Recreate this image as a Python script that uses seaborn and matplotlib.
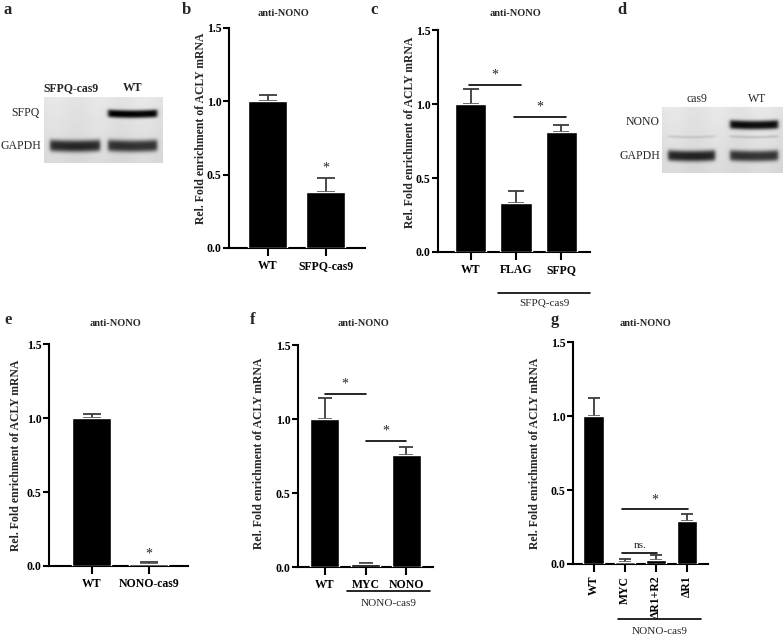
import numpy as np
import pandas as pd
import matplotlib
matplotlib.use("Agg")
import matplotlib.pyplot as plt
import seaborn as sns
from matplotlib.transforms import blended_transform_factory

# ---- data ----
b_groups = ["WT", "SFPQ-cas9"]
b_means = [1.0, 0.38]
b_upper = [1.04, 0.48]

c_groups = ["WT", "FLAG", "SFPQ"]
c_means = [1.0, 0.33, 0.81]
c_upper = [1.10, 0.41, 0.86]

e_groups = ["WT", "NONO-cas9"]
e_means = [1.0, 0.011]
e_upper = [1.025, 0.025]

f_groups = ["WT", "MYC", "NONO"]
f_means = [1.0, 0.02, 0.76]
f_upper = [1.14, 0.03, 0.81]

g_groups = ["WT", "MYC", "ΔR1+R2", "ΔR1"]
g_means = [1.0, 0.016, 0.03, 0.29]
g_upper = [1.12, 0.034, 0.06, 0.34]

# significance: (group i, group j, height, label)
c_sig = [(0, 1, 1.13, "*"), (1, 2, 0.91, "*")]
f_sig = [(0, 1, 1.17, "*"), (1, 2, 0.85, "*")]
g_sig = [(1, 2, 0.075, "ns."), (1, 3, 0.37, "*")]

# western blots: band darkness per row / lane
blot_a_lanes = ["SFPQ-cas9", "WT"]
blot_a_rows = ["SFPQ", "GAPDH"]
blot_a_signal = [[0.0, 1.0], [0.8, 0.76]]
blot_d_lanes = ["cas9", "WT"]
blot_d_rows = ["NONO", "", "GAPDH"]
blot_d_signal = [[0.0, 0.95], [0.1, 0.12], [0.82, 0.75]]

ylab = "Rel. Fold enrichment of ACLY mRNA"

W, H = 784, 636
sns.set_style("ticks")
plt.rcParams['font.family'] = ['Liberation Serif', 'DejaVu Serif']
plt.rcParams['font.weight'] = 'bold'

fig = plt.figure(figsize=(W / 100, H / 100), dpi=100)


def add_ax(l, t, r, b):
    return fig.add_axes([l / W, 1 - b / H, (r - l) / W, (b - t) / H])


def ftext(x, y, s, **kw):
    fig.text(x / W, 1 - y / H, s, **kw)


def bar_panel(box, groups, means, upper, xlim, width, capsize, rotate=False):
    ax = add_ax(*box)
    df = pd.DataFrame({"group": groups, "value": means})
    sns.barplot(data=df, x="group", y="value", color="black", width=width,
                saturation=1, errorbar=None, ax=ax, zorder=3)
    err = np.array(upper) - np.array(means)
    ax.errorbar(np.arange(len(groups)), means, yerr=[np.zeros(len(groups)), err],
                fmt="none", ecolor="#3c3c3c", elinewidth=1.3, capsize=capsize,
                capthick=1.3, zorder=2)
    ax.set_xlim(*xlim)
    ax.set_ylim(0, 1.5)
    ax.set_yticks([0, 0.5, 1.0, 1.5])
    ax.set_yticklabels(["0.0", "0.5", "1.0", "1.5"], fontsize=8.5, fontweight="bold")
    ax.set_xlabel("")
    ax.set_ylabel("")
    for s in ["top", "right"]:
        ax.spines[s].set_visible(False)
    for s in ["left", "bottom"]:
        ax.spines[s].set_linewidth(1.5)
        ax.spines[s].set_color("black")
    ax.tick_params(axis="y", length=4, width=1.5, pad=1.5, colors="black")
    ax.tick_params(axis="x", length=6, width=1.5, pad=2.5, colors="black")
    ax.set_xticks(range(len(groups)))
    if rotate:
        ax.set_xticklabels(groups, rotation=90, fontsize=8.5, fontweight="bold", va="top")
    else:
        ax.set_xticklabels(groups, fontsize=8.5, fontweight="bold")
    ax.set_facecolor("white")
    return ax


def sig_lines(ax, sig, lo=-0.05, hi=0.1, gap=0.025):
    for i, j, y, lab in sig:
        ax.plot([i + lo, j + hi], [y, y], color="black", lw=1.2, clip_on=False)
        fs = 10 if lab == "*" else 8
        ax.text((i + lo + j + hi) / 2, y + gap, lab, ha="center", va="bottom",
                fontsize=fs, fontweight="normal")


def group_line(ax, x0, x1, y_px, label, y_txt):
    tr = blended_transform_factory(ax.transData, fig.transFigure)
    ax.plot([x0, x1], [1 - y_px / H] * 2, color="black", lw=1.2,
            transform=tr, clip_on=False)
    ax.text((x0 + x1) / 2, 1 - y_txt / H, label, transform=tr, ha="center",
            va="center", fontsize=8, fontweight="normal")


def blot(box, lanes_x, rows_y, rows_h, signal, bg=0.9):
    l, t, r, b = box
    ax = add_ax(l, t, r, b)
    w, h = r - l, b - t
    yy, xx = np.mgrid[0:h * 4, 0:w * 4] / 4.0
    img = bg - 0.05 * (yy / h) + 0.01 * np.sin(xx / 7.0)
    for ri, (yc, hh) in enumerate(zip(rows_y, rows_h)):
        for li, (x0, x1) in enumerate(lanes_x):
            s = signal[ri][li]
            px = 0.5 * (np.tanh((xx - x0) / 2.0) - np.tanh((xx - x1) / 2.0))
            curve = 0.8 * ((xx - (x0 + x1) / 2) / ((x1 - x0) / 2)) ** 2
            py = np.exp(-(np.abs(yy - yc + curve) / (hh / 2)) ** 3)
            img = img - s * 0.88 * px * py
    ax.imshow(np.clip(img, 0, 1), cmap="gray", vmin=0, vmax=1,
              extent=(0, w, h, 0), aspect="auto", interpolation="bilinear")
    ax.axis("off")
    return ax


# ---- panel a: blot ----
blot((44, 97, 163, 163), [(6, 56), (64, 113)], [17, 49], [8, 12], blot_a_signal)
ftext(71, 88, blot_a_lanes[0], ha="center", va="center", fontsize=8.5, fontweight="bold")
ftext(133, 88, blot_a_lanes[1], ha="center", va="center", fontsize=8.5, fontweight="bold")
ftext(40, 113, blot_a_rows[0], ha="right", va="center", fontsize=8.5, fontweight="normal")
ftext(41, 146, blot_a_rows[1], ha="right", va="center", fontsize=8.5, fontweight="normal")

# ---- panel d: blot ----
blot((662, 107, 783, 173), [(6, 53), (68, 116)], [18, 30, 49], [9, 3, 11], blot_d_signal)
ftext(697, 99, blot_d_lanes[0], ha="center", va="center", fontsize=8.5, fontweight="normal")
ftext(757, 99, blot_d_lanes[1], ha="center", va="center", fontsize=8.5, fontweight="normal")
ftext(660, 122, blot_d_rows[0], ha="right", va="center", fontsize=8.5, fontweight="normal")
ftext(660, 156, blot_d_rows[2], ha="right", va="center", fontsize=8.5, fontweight="normal")

# ---- panel b ----
axb = bar_panel((229, 28, 365, 248), b_groups, b_means, b_upper, (-0.66, 1.67), 0.67, 6.5)
axb.text(1, b_upper[1] + 0.02, "*", ha="center", va="bottom", fontsize=10, fontweight="normal")

# ---- panel c ----
axc = bar_panel((438, 30, 590, 252), c_groups, c_means, c_upper, (-0.73, 2.64), 0.69, 5.5)
sig_lines(axc, c_sig)
group_line(axc, 0.6, 2.64, 293, "SFPQ-cas9", 303)

# ---- panel e ----
axe = bar_panel((49, 344, 188, 566), e_groups, e_means, e_upper, (-0.74, 1.68), 0.68, 6.5)
axe.text(1, e_upper[1] + 0.015, "*", ha="center", va="bottom", fontsize=10, fontweight="normal")

# ---- panel f ----
axf = bar_panel((298, 345, 433, 567), f_groups, f_means, f_upper, (-0.65, 2.65), 0.7, 5)
sig_lines(axf, f_sig, lo=0.0, hi=0.0)
group_line(axf, 0.55, 2.57, 591, "NONO-cas9", 603)

# ---- panel g ----
axg = bar_panel((573, 342, 708, 564), g_groups, g_means, g_upper, (-0.66, 3.68), 0.65, 4, rotate=True)
sig_lines(axg, g_sig, lo=-0.08, hi=0.05, gap=0.02)
group_line(axg, 0.79, 3.44, 619, "NONO-cas9", 631)

# ---- y labels ----
for x, y in [(201, 128), (410, 132), (16, 455), (259, 453), (535, 453)]:
    ftext(x, y, ylab, rotation=90, ha="center", va="center", fontsize=8.5, fontweight="bold")

# ---- titles and panel letters ----
for x, y in [(284, 13), (516, 13), (115, 323), (363, 323), (645, 323)]:
    ftext(x, y, "anti-NONO", ha="center", va="center", fontsize=7.5, fontweight="bold")
for x, y, s in [(8, 10, "a"), (186, 10, "b"), (374, 10, "c"), (622, 10, "d"),
                (8, 320, "e"), (253, 320, "f"), (555, 320, "g")]:
    ftext(x, y, s, ha="center", va="center", fontsize=12, fontweight="bold")

fig.savefig("out.png", dpi=100)
